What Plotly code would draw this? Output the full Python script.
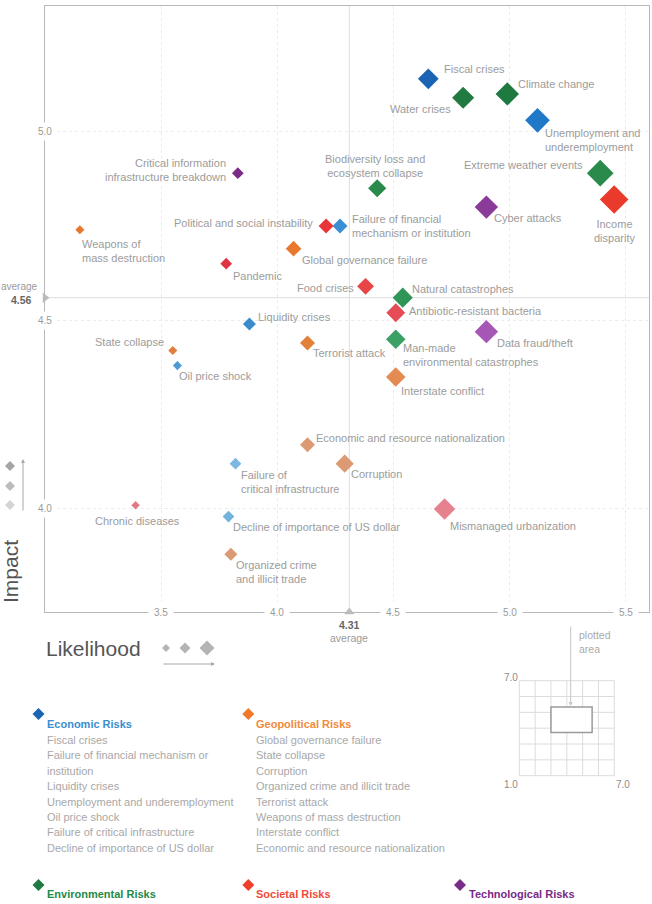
import plotly.graph_objects as go

# ---------------- DATA ----------------
names = [
    "Fiscal crises", "Water crises", "Climate change", "Unemployment and underemployment",
    "Extreme weather events", "Income disparity", "Cyber attacks",
    "Biodiversity loss and ecosystem collapse", "Failure of financial mechanism or institution",
    "Political and social instability", "Food crises", "Natural catastrophes",
    "Critical information infrastructure breakdown", "Weapons of mass destruction", "Pandemic",
    "Global governance failure", "Liquidity crises", "State collapse", "Oil price shock",
    "Terrorist attack", "Economic and resource nationalization", "Failure of critical infrastructure",
    "Chronic diseases", "Decline of importance of US dollar", "Organized crime and illicit trade",
    "Antibiotic-resistant bacteria", "Data fraud/theft", "Man-made environmental catastrophes",
    "Interstate conflict", "Corruption", "Mismanaged urbanization",
]
category = [
    "Economic", "Environmental", "Environmental", "Economic",
    "Environmental", "Societal", "Technological",
    "Environmental", "Economic",
    "Societal", "Societal", "Environmental",
    "Technological", "Geopolitical", "Societal",
    "Geopolitical", "Economic", "Geopolitical", "Economic",
    "Geopolitical", "Geopolitical", "Economic",
    "Societal", "Economic", "Geopolitical",
    "Societal", "Technological", "Environmental",
    "Geopolitical", "Geopolitical", "Societal",
]
likelihood = [4.65, 4.80, 4.99, 5.12, 5.39, 5.45, 4.90, 4.43, 4.27, 4.21, 4.38, 4.54,
              3.83, 3.15, 3.78, 4.07, 3.88, 3.55, 3.57, 4.13, 4.13, 3.82, 3.39, 3.79,
              3.80, 4.51, 4.90, 4.51, 4.51, 4.29, 4.72]
impact = [5.14, 5.09, 5.10, 5.03, 4.89, 4.82, 4.80, 4.85, 4.75, 4.75, 4.59, 4.56,
          4.89, 4.74, 4.65, 4.69, 4.49, 4.42, 4.38, 4.44, 4.17, 4.12, 4.01, 3.98,
          3.88, 4.52, 4.47, 4.45, 4.35, 4.12, 4.00]
weight = [16, 17, 18, 19, 20.5, 22, 18, 14, 11.5, 11.5, 13, 15.5,
          9, 7, 9, 12, 10, 7, 7, 11.5, 11.5, 9, 6.5, 9,
          10, 14.5, 18, 15, 15, 14, 16.5]

avg_likelihood = 4.31
avg_impact = 4.56
x_ticks = [3.5, 4.0, 4.5, 5.0, 5.5]
y_ticks = [4.0, 4.5, 5.0]
x_range = [3.0, 5.6]
y_range = [3.727, 5.333]

econ_items = ["Fiscal crises", "Failure of financial mechanism or", "institution", "Liquidity crises",
              "Unemployment and underemployment", "Oil price shock",
              "Failure of critical infrastructure", "Decline of importance of US dollar"]
geo_items = ["Global governance failure", "State collapse", "Corruption",
             "Organized crime and illicit trade", "Terrorist attack",
             "Weapons of mass destruction", "Interstate conflict",
             "Economic and resource nationalization"]

# ---------------- STYLE ----------------
W, H = 652, 904
FONT = "Liberation Sans, Arial, sans-serif"
TXT = "#9c9c9c"

point_color = {
    "Fiscal crises": "#1b63b3", "Unemployment and underemployment": "#1f78c8",
    "Failure of financial mechanism or institution": "#3a8fd4", "Liquidity crises": "#3b8ccd",
    "Oil price shock": "#4f9bd6", "Failure of critical infrastructure": "#7cb9e2",
    "Decline of importance of US dollar": "#72b2dd",
    "Climate change": "#1f7a40", "Water crises": "#217a3f", "Extreme weather events": "#2a8a4b",
    "Biodiversity loss and ecosystem collapse": "#2a8a4b", "Natural catastrophes": "#2f9658",
    "Man-made environmental catastrophes": "#3aa064",
    "Income disparity": "#ea3a2c", "Political and social instability": "#e8353a",
    "Food crises": "#e84646", "Pandemic": "#e03444", "Antibiotic-resistant bacteria": "#e64c55",
    "Mismanaged urbanization": "#e5828e", "Chronic diseases": "#e07a86",
    "Global governance failure": "#e8782e", "Weapons of mass destruction": "#e8782e",
    "State collapse": "#e27d3c", "Terrorist attack": "#e3803c", "Interstate conflict": "#e38b50",
    "Economic and resource nationalization": "#dc9a72", "Corruption": "#dc9a72",
    "Organized crime and illicit trade": "#dc9a72",
    "Critical information infrastructure breakdown": "#7a2a88", "Cyber attacks": "#8a3a99",
    "Data fraud/theft": "#a656b5",
}

label_spec = {
    "Fiscal crises": ("left", 16, 10, "Fiscal crises"),
    "Water crises": ("right", -12, -11, "Water crises"),
    "Climate change": ("left", 11, 10, "Climate change"),
    "Unemployment and underemployment": ("left", 8, -20, "Unemployment and<br>underemployment"),
    "Extreme weather events": ("right", -17, 8, "Extreme weather events"),
    "Income disparity": ("center", 0, -31, "Income<br>disparity"),
    "Cyber attacks": ("left", 8, -11, "Cyber attacks"),
    "Biodiversity loss and ecosystem collapse": ("center", -2, 22, "Biodiversity loss and<br>ecosystem collapse"),
    "Failure of financial mechanism or institution": ("left", 12, 0, "Failure of financial<br>mechanism or institution"),
    "Political and social instability": ("right", -13, 3, "Political and social instability"),
    "Food crises": ("right", -12, -2, "Food crises"),
    "Natural catastrophes": ("left", 9, 9, "Natural catastrophes"),
    "Critical information infrastructure breakdown": ("right", -12, 3, "Critical information<br>infrastructure breakdown"),
    "Weapons of mass destruction": ("left", 2, -21, "Weapons of<br>mass destruction"),
    "Pandemic": ("left", 7, -12, "Pandemic"),
    "Global governance failure": ("left", 8, -11, "Global governance failure"),
    "Liquidity crises": ("left", 9, 7, "Liquidity crises"),
    "State collapse": ("right", -9, 9, "State collapse"),
    "Oil price shock": ("left", 2, -10, "Oil price shock"),
    "Terrorist attack": ("left", 5, -10, "Terrorist attack"),
    "Economic and resource nationalization": ("left", 8, 7, "Economic and resource nationalization"),
    "Failure of critical infrastructure": ("left", 6, -18, "Failure of<br>critical infrastructure"),
    "Chronic diseases": ("center", 2, -16, "Chronic diseases"),
    "Decline of importance of US dollar": ("left", 4, -10, "Decline of importance of US dollar"),
    "Organized crime and illicit trade": ("left", 5, -18, "Organized crime<br>and illicit trade"),
    "Antibiotic-resistant bacteria": ("left", 13, 2, "Antibiotic-resistant bacteria"),
    "Data fraud/theft": ("left", 11, -11, "Data fraud/theft"),
    "Man-made environmental catastrophes": ("left", 7, -16, "Man-made<br>environmental catastrophes"),
    "Interstate conflict": ("left", 5, -14, "Interstate conflict"),
    "Corruption": ("left", 6, -10, "Corruption"),
    "Mismanaged urbanization": ("left", 5, -17, "Mismanaged urbanization"),
}

# plot area in pixels
PL, PR, PT, PB = 45, 649, 6, 612


def px(x):
    return x / W


def py(y):
    return 1 - y / H


fig = go.Figure()

fig.add_trace(go.Scatter(
    x=likelihood, y=impact, mode="markers", text=names, hoverinfo="text",
    marker=dict(symbol="diamond", size=weight, sizemode="diameter", opacity=1,
                color=[point_color[n] for n in names], line=dict(width=0)),
    showlegend=False, cliponaxis=False,
))

# average markers (triangles)
fig.add_trace(go.Scatter(
    x=[avg_likelihood], y=[y_range[0]], mode="markers", hoverinfo="skip",
    marker=dict(symbol="triangle-up", size=9, color="#bdbdbd", opacity=1), showlegend=False, cliponaxis=False))
fig.add_trace(go.Scatter(
    x=[x_range[0]], y=[avg_impact], mode="markers", hoverinfo="skip",
    marker=dict(symbol="triangle-right", size=9, color="#bdbdbd", opacity=1), showlegend=False, cliponaxis=False))

shapes = []
annotations = []

# average lines
shapes.append(dict(type="line", xref="x", yref="y", x0=avg_likelihood, x1=avg_likelihood,
                   y0=y_range[0], y1=y_range[1], line=dict(color="#dedede", width=1), layer="below"))
shapes.append(dict(type="line", xref="x", yref="y", x0=x_range[0], x1=x_range[1],
                   y0=avg_impact, y1=avg_impact, line=dict(color="#dedede", width=1), layer="below"))

# point labels
for n, lx, ly in zip(names, likelihood, impact):
    anc, dx, dy, txt = label_spec[n]
    annotations.append(dict(x=lx, y=ly, xref="x", yref="y", text=txt, showarrow=False,
                            xanchor=anc, yanchor="middle", align=anc, xshift=dx, yshift=dy,
                            borderpad=0, borderwidth=0,
                            font=dict(family=FONT, size=11, color=TXT)))

# tick labels sitting on axis lines
ybot = py(PB)
for t in x_ticks:
    annotations.append(dict(x=t, y=ybot, xref="x", yref="paper", text=f"{t:.1f}", showarrow=False,
                            xanchor="center", yanchor="middle", bgcolor="white", borderpad=5,
                            font=dict(family=FONT, size=10, color="#9a9a9a")))
xleft = px(PL)
for t in y_ticks:
    annotations.append(dict(x=xleft, y=t, xref="paper", yref="y", text=f"{t:.1f}", showarrow=False,
                            xanchor="center", yanchor="middle", bgcolor="white", borderpad=3,
                            font=dict(family=FONT, size=10, color="#9a9a9a")))

# averages text
annotations.append(dict(x=avg_likelihood, y=ybot, xref="x", yref="paper", text=f"<b>{avg_likelihood:.2f}</b>",
                        showarrow=False, yanchor="middle", yshift=-13,
                        font=dict(family=FONT, size=10.5, color="#666")))
annotations.append(dict(x=avg_likelihood, y=ybot, xref="x", yref="paper", text="average",
                        showarrow=False, yanchor="middle", yshift=-26,
                        font=dict(family=FONT, size=10.5, color="#9a9a9a")))
annotations.append(dict(x=px(34), y=avg_impact, xref="paper", yref="y", text=f"<b>{avg_impact:.2f}</b>",
                        showarrow=False, xanchor="right", yanchor="middle", yshift=-2,
                        font=dict(family=FONT, size=10.5, color="#666")))
annotations.append(dict(x=px(0.5), y=avg_impact, xref="paper", yref="y", text="average",
                        showarrow=False, xanchor="left", yanchor="middle", yshift=11,
                        borderpad=0, borderwidth=0,
                        font=dict(family=FONT, size=10, color="#9a9a9a")))

# axis titles
annotations.append(dict(x=px(10), y=py(572), xref="paper", yref="paper", text="Impact", textangle=-90,
                        showarrow=False, xanchor="center", yanchor="middle",
                        font=dict(family=FONT, size=21, color="#555")))
annotations.append(dict(x=px(44), y=py(648), xref="paper", yref="paper", text="Likelihood",
                        showarrow=False, xanchor="left", yanchor="middle",
                        font=dict(family=FONT, size=21, color="#555")))


def diamond(cx, cy, d, color):
    r = d / 2
    path = (f"M {px(cx - r)} {py(cy)} L {px(cx)} {py(cy - r)} L {px(cx + r)} {py(cy)} "
            f"L {px(cx)} {py(cy + r)} Z")
    return dict(type="path", xref="paper", yref="paper", path=path,
                fillcolor=color, line=dict(width=0))


# size legends
for cx, d in [(166, 8), (185, 11), (207, 15)]:
    shapes.append(diamond(cx, 648, d, "#b4b4b4"))
for cy, c in [(466, "#a4a4a4"), (486, "#bcbcbc"), (505, "#d4d4d4")]:
    shapes.append(diamond(10, cy, 10, c))

def arrow(x0, y0, x1, y1, color="#a8a8a8"):
    return dict(x=px(x1), y=py(y1), xref="paper", yref="paper", ax=x0 - x1, ay=y0 - y1,
                axref="pixel", ayref="pixel", text="", showarrow=True, arrowhead=2, arrowsize=0.8,
                arrowwidth=1, arrowcolor=color, standoff=0, startstandoff=0)

annotations.append(arrow(162, 664, 215, 664))
annotations.append(arrow(23, 512, 23, 459))

# inset: plotted area within 1..7 scale
G0X, G0Y, CELL = 519.3, 680.7, 15.83
for i in range(7):
    shapes.append(dict(type="line", xref="paper", yref="paper",
                       x0=px(G0X + i * CELL), x1=px(G0X + i * CELL), y0=py(G0Y), y1=py(G0Y + 6 * CELL),
                       line=dict(color="#dcdcdc", width=1)))
    shapes.append(dict(type="line", xref="paper", yref="paper",
                       x0=px(G0X), x1=px(G0X + 6 * CELL), y0=py(G0Y + i * CELL), y1=py(G0Y + i * CELL),
                       line=dict(color="#dcdcdc", width=1)))
rx0 = G0X + (x_range[0] - 1) * CELL
rx1 = G0X + (x_range[1] - 1) * CELL
ry0 = G0Y + (7 - y_range[1]) * CELL
ry1 = G0Y + (7 - y_range[0]) * CELL
shapes.append(dict(type="rect", xref="paper", yref="paper", x0=px(rx0), x1=px(rx1), y0=py(ry0), y1=py(ry1),
                   fillcolor="white", line=dict(color="#9a9a9a", width=1.5)))
annotations.append(arrow(570.7, 625, 570.7, ry0 - 1, color="#c4c4c4"))
annotations.append(dict(x=px(577), y=py(641.5), xref="paper", yref="paper", text="plotted<br>area",
                        showarrow=False, xanchor="left", yanchor="middle", align="left",
                        font=dict(family=FONT, size=10.5, color="#aaa")))
for tx, ty, tt in [(510.7, 677.7, "7.0"), (510.7, 784.3, "1.0"), (623.3, 784.3, "7.0")]:
    annotations.append(dict(x=px(tx), y=py(ty), xref="paper", yref="paper", text=tt, showarrow=False,
                            xanchor="center", yanchor="middle",
                            font=dict(family=FONT, size=10, color="#8a8a8a")))

# category legends
cat_style = {
    "Economic": ("#1b63b3", "#3a8ed0", 38.5, 714, 45, 724.3),
    "Geopolitical": ("#f07a2a", "#f08a3c", 248.3, 714, 254.3, 724.3),
    "Environmental": ("#1e7a40", "#1e8a48", 38.5, 885, 45, 894),
    "Societal": ("#f0402a", "#f04a3a", 248.3, 885, 254.3, 894),
    "Technological": ("#7a2a88", "#7a2a88", 460, 885, 466.7, 894),
}
for cat, (dc, tc, dx_, dy_, tx, ty) in cat_style.items():
    shapes.append(diamond(dx_, dy_, 12, dc))
    annotations.append(dict(x=px(tx), y=py(ty), xref="paper", yref="paper", text=f"<b>{cat} Risks</b>",
                            showarrow=False, xanchor="left", yanchor="middle",
                            font=dict(family=FONT, size=11, color=tc)))

for items, tx in [(econ_items, 45), (geo_items, 254.3)]:
    for k, it in enumerate(items):
        annotations.append(dict(x=px(tx), y=py(740 + k * 15.4), xref="paper", yref="paper", text=it,
                                showarrow=False, xanchor="left", yanchor="middle",
                                font=dict(family=FONT, size=11, color="#a8a8a8")))

axis_common = dict(showline=True, linecolor="#b8b8b8", linewidth=1, mirror=True, ticks="",
                   showticklabels=False, zeroline=False, showgrid=True, gridcolor="#ebebeb",
                   griddash="dot", gridwidth=1, fixedrange=True)

fig.update_layout(
    width=W, height=H, margin=dict(l=0, r=0, t=0, b=0),
    paper_bgcolor="white", plot_bgcolor="white",
    xaxis=dict(range=x_range, domain=[px(PL), px(PR)], tickvals=x_ticks, **axis_common),
    yaxis=dict(range=y_range, domain=[py(PB), py(PT)], tickvals=y_ticks, **axis_common),
    shapes=shapes, annotations=annotations, showlegend=False,
    font=dict(family=FONT),
)

fig.write_html("out.html", config={"displayModeBar": False})
